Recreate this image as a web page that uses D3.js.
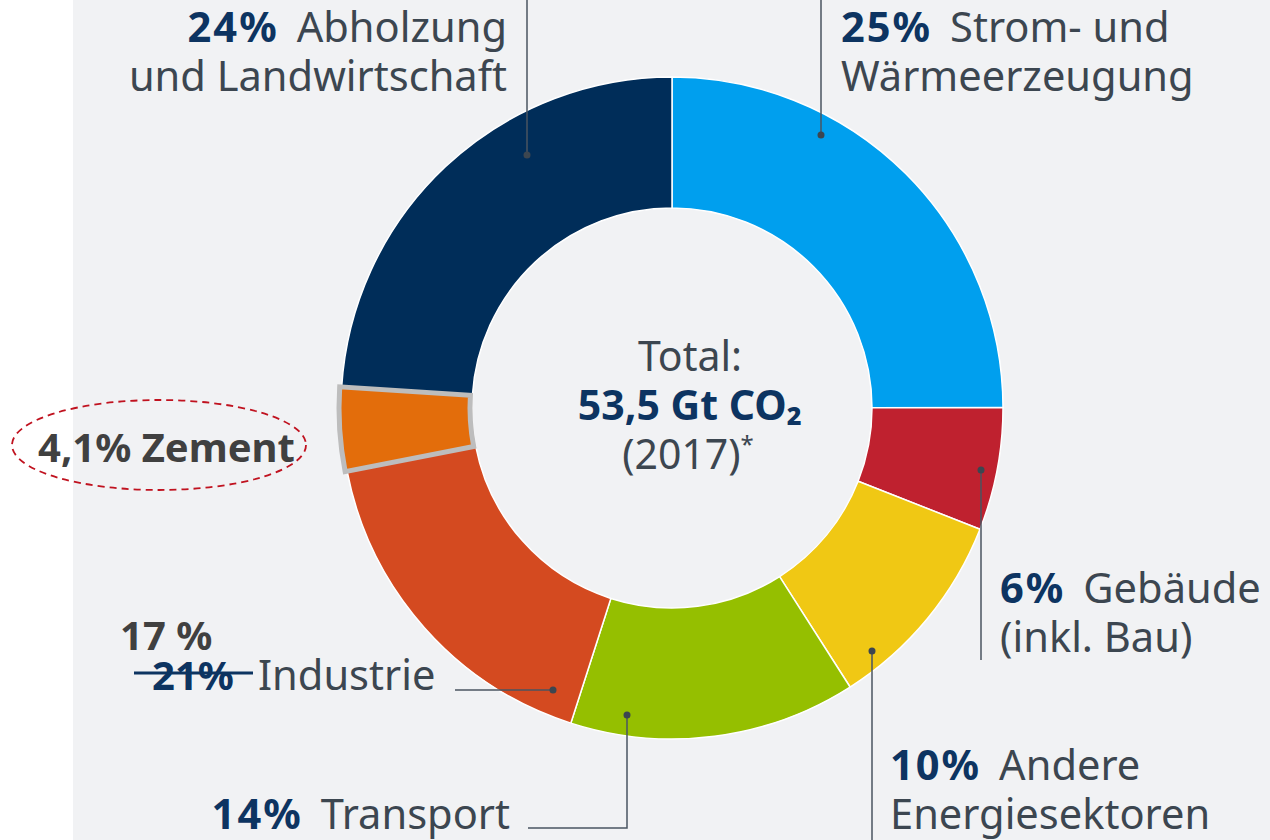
<!DOCTYPE html>
<html>
<head>
<meta charset="utf-8">
<script src="https://cdn.jsdelivr.net/npm/d3@7"></script>
<style>
	body { margin: 0; background: #fff; }
	svg { display: block; font-family: "Noto Sans", "Open Sans", sans-serif; }
</style>
</head>
<body>
<svg id="svg_donut" width="1270" height="840"></svg>
<script>
// data
var sectors = ["Strom- und Wärmeerzeugung", "Gebäude (inkl. Bau)", "Andere Energiesektoren",
	"Transport", "Industrie", "Zement", "Abholzung und Landwirtschaft"];
var shares = [25, 6, 10, 14, 17, 4.1, 24];
var colors = ["#009fee", "#bf212f", "#f0c814", "#95bf00", "#d44a20", "#e36d0b", "#002d59"];

var centerLines = ["Total:", "53,5 Gt CO₂", "(2017)", "*"];

// label texts: [bold part, rest of line 1, line 2]
var labelTexts = [
	["25%", "Strom- und", "Wärmeerzeugung"],
	["6%", "Gebäude", "(inkl. Bau)"],
	["10%", "Andere", "Energiesektoren"],
	["14%", "Transport", ""],
	["", "Industrie", ""],
	["", "", ""],
	["24%", "Abholzung", "und Landwirtschaft"]
];

// layout (positions only)
var layout = [
	{ x: 841, y: 42, anchor: "start", dot: [821, 135], path: [[821, 0], [821, 135]] },
	{ x: 1000, y: 603, anchor: "start", dot: [981, 470], path: [[981, 470], [981, 660]] },
	{ x: 890, y: 780, anchor: "start", dot: [872, 651], path: [[872, 651], [872, 840]] },
	{ x: 510, y: 829, anchor: "end", dot: [627, 715], path: [[627, 715], [627, 828], [528, 828]] },
	{ x: 258, y: 690, anchor: "start", dot: [553, 690], path: [[553, 690], [455, 690]] },
	null,
	{ x: 507, y: 42, anchor: "end", dot: [527, 155], path: [[527, 0], [527, 155]] }
];

var svg = d3.select("#svg_donut"),
	width = +svg.attr("width"),
	height = +svg.attr("height");

svg.append("rect")
	.attr("x", 73).attr("y", 0)
	.attr("width", width - 73).attr("height", height)
	.attr("fill", "#f1f2f4");

var cx = 672, cy = 408,
	outerR = 331, innerR = 200;

var pie = d3.pie().sort(null).value(function(d) { return d; });
var arc = d3.arc().innerRadius(innerR).outerRadius(outerR);
var arcs = pie(shares);

var g = svg.append("g").attr("transform", "translate(" + cx + "," + cy + ")");

g.selectAll("path.slice").data(arcs).enter()
	.append("path")
	.attr("class", "slice")
	.attr("d", arc)
	.attr("fill", function(d, i) { return colors[i]; })
	.attr("stroke", "#fff")
	.attr("stroke-width", 1.5)
	.attr("stroke-linejoin", "round");

// highlighted cement slice
var cement = arcs[5];
var mid = (cement.startAngle + cement.endAngle) / 2;
g.append("path")
	.attr("d", arc(cement))
	.attr("transform", "translate(" + (Math.sin(mid) * 2) + "," + (-Math.cos(mid) * 2) + ")")
	.attr("fill", colors[5])
	.attr("stroke", "#bdbdbd")
	.attr("stroke-width", 5)
	.attr("stroke-linejoin", "miter");

// center text
var center = svg.append("g").attr("text-anchor", "middle").attr("font-size", 41);
center.append("text").attr("x", 690).attr("y", 371)
	.attr("fill", "#3c4650").text(centerLines[0]);
center.append("text").attr("x", 690).attr("y", 420)
	.attr("font-weight", "bold").attr("fill", "#0d3461").text(centerLines[1]);
var yr = center.append("text").attr("x", 688).attr("y", 469)
	.attr("fill", "#3c4650");
yr.append("tspan").text(centerLines[2]);
yr.append("tspan").attr("font-size", 24).attr("dy", -16).text(centerLines[3]);

// leader lines and dots
var lineGen = d3.line();
var leaders = svg.append("g");
layout.forEach(function(l, i) {
	if (!l) return;
	leaders.append("path")
		.attr("d", lineGen(l.path))
		.attr("fill", "none")
		.attr("stroke", "#4a5561")
		.attr("stroke-width", 1.5);
	leaders.append("circle")
		.attr("cx", l.dot[0]).attr("cy", l.dot[1]).attr("r", 3.5)
		.attr("fill", "#3c4650");
});

// labels
var labels = svg.append("g").attr("font-size", 41.6);
layout.forEach(function(l, i) {
	if (!l) return;
	var t = labelTexts[i];
	var line1 = labels.append("text")
		.attr("x", l.x).attr("y", l.y)
		.attr("text-anchor", l.anchor);
	if (t[0]) {
		line1.append("tspan").attr("font-weight", "bold").attr("fill", "#0d3461")
			.attr("letter-spacing", 2).text(t[0]);
		line1.append("tspan").attr("dx", 18).attr("fill", "#3c4650").text(t[1]);
	} else {
		line1.append("tspan").attr("fill", "#3c4650").text(t[1]);
	}
	if (t[2]) {
		labels.append("text")
			.attr("x", l.x).attr("y", l.y + 49)
			.attr("text-anchor", l.anchor)
			.attr("fill", "#3c4650")
			.text(t[2]);
	}
});

// Industrie correction: old share struck through, new share above
var oldShare = 21, newShare = 17;
var callouts = svg.append("g").attr("font-size", 40).attr("font-weight", "bold");
callouts.append("text")
	.attr("x", 152).attr("y", 690)
	.attr("fill", "#0d3461")
	.text(oldShare + "%");
svg.append("line")
	.attr("x1", 134).attr("x2", 253).attr("y1", 673).attr("y2", 673)
	.attr("stroke", "#0d3461").attr("stroke-width", 3);
callouts.append("text")
	.attr("x", 120).attr("y", 650)
	.attr("fill", "#404040")
	.text(newShare + " %");

// cement callout
callouts.append("text")
	.attr("x", 38).attr("y", 462)
	.attr("fill", "#404040")
	.text(String(shares[5]).replace(".", ",") + "% " + sectors[5]);
svg.append("ellipse")
	.attr("cx", 159).attr("cy", 445).attr("rx", 147).attr("ry", 45)
	.attr("fill", "none")
	.attr("stroke", "#c0121f")
	.attr("stroke-width", 1.8)
	.attr("stroke-dasharray", "7,5");
</script>
</body>
</html>
